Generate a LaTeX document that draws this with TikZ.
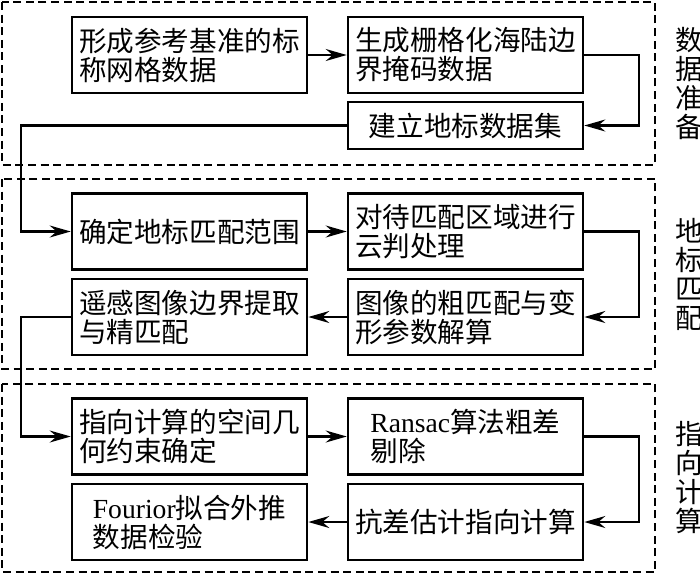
\documentclass[tikz,border=0pt]{standalone}
\usepackage{fontspec}
\setmainfont{Liberation Serif}
\newfontfamily\cjk{Noto Sans CJK SC}
\usetikzlibrary{arrows.meta,calc}

\tikzset{
  stage/.style={draw,line width=1.3pt,minimum width=117.5pt,minimum height=38pt,
    align=left,inner sep=2pt,font=\cjk\fontsize{13.8}{14.5}\selectfont},
  zone/.style={line width=1.1pt,dash pattern=on 4pt off 2.3pt},
  conn/.style={line width=1.1pt,-{Stealth[length=10.5pt,width=6pt,inset=3.5pt]}},
  side/.style={align=center,inner sep=0pt,font=\cjk\fontsize{13.8}{14.5}\selectfont}
}

\begin{document}
\begin{tikzpicture}[x=0.5pt,y=-0.5pt]
\useasboundingbox (0,0) rectangle (700,575);

\draw[zone] (2,2) rectangle (655,165);
\draw[zone] (2,179) rectangle (655,369);
\draw[zone] (2,384) rectangle (655,572);

\node[stage] (grid) at (189.5,55) {形成参考基准的标\\称网格数据};
\node[stage] (mask) at (465.5,55) {生成栅格化海陆边\\界掩码数据};
\node[stage,minimum height=23.5pt] (lmset) at (465.5,125.5) {建立地标数据集};

\node[stage] (range) at (189.5,231.5) {确定地标匹配范围};
\node[stage] (cloud) at (465.5,231.5) {对待匹配区域进行\\云判处理};
\node[stage] (coarse) at (465.5,317) {图像的粗匹配与变\\形参数解算};
\node[stage] (fine) at (189.5,317) {遥感图像边界提取\\与精匹配};

\node[stage] (geom) at (189.5,436.5) {指向计算的空间几\\何约束确定};
\node[stage] (ransac) at (465.5,436.5) {{\rmfamily Ransac}算法粗差\\剔除};
\node[stage] (robust) at (465.5,522) {抗差估计指向计算};
\node[stage] (fourier) at (189.5,522) {{\rmfamily Fourior}拟合外推\\数据检验};

\node[side] (prep) at (689,83.5) {数\\据\\准\\备};
\node[side] (match) at (689,274) {地\\标\\匹\\配};
\node[side] (point) at (689,478) {指\\向\\计\\算};

\draw[conn] (grid) -- (mask);
\draw[conn] (mask.east) -- ++(55,0) |- (lmset.east);
\draw[conn] (lmset.west) -| ($(range.west)+(-50,0)$) -- (range.west);

\draw[conn] (range) -- (cloud);
\draw[conn] (cloud.east) -- ++(55,0) |- (coarse.east);
\draw[conn] (coarse) -- (fine);
\draw[conn] (fine.west) -| ($(geom.west)+(-50,0)$) -- (geom.west);

\draw[conn] (geom) -- (ransac);
\draw[conn] (ransac.east) -- ++(55,0) |- (robust.east);
\draw[conn] (robust) -- (fourier);

\end{tikzpicture}
\end{document}
